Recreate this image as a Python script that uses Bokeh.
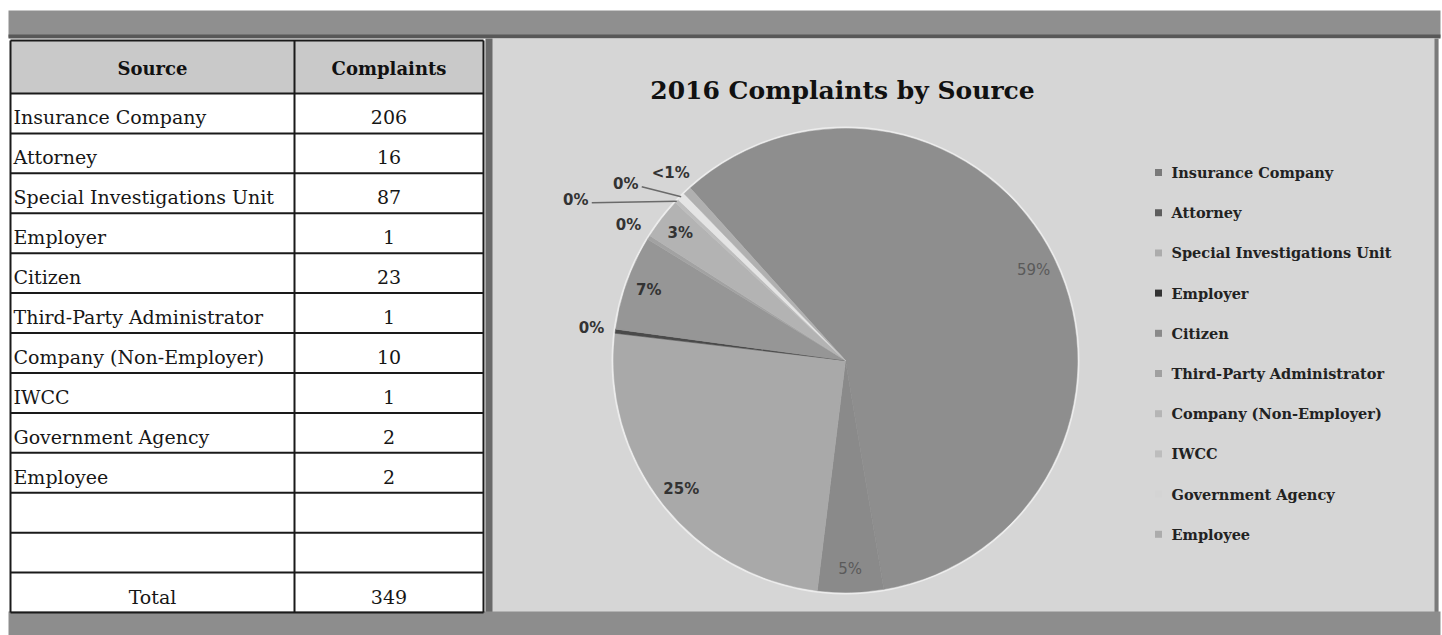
import math
from bokeh.plotting import figure
from bokeh.models import Range1d
from bokeh.core.properties import value
from bokeh.embed import file_html
from bokeh.resources import INLINE

# ---------------- data ----------------
sources = ["Insurance Company", "Attorney", "Special Investigations Unit", "Employer",
           "Citizen", "Third-Party Administrator", "Company (Non-Employer)", "IWCC",
           "Government Agency", "Employee"]
complaints = [206, 16, 87, 1, 23, 1, 10, 1, 2, 2]
pct_labels = ["59%", "5%", "25%", "0%", "7%", "0%", "3%", "0%", "0%", "<1%"]
header_labels = ["Source", "Complaints"]
total_label = "Total"
chart_title = "2016 Complaints by Source"

# ---------------- style ----------------
slice_colors = ["#8e8e8e", "#8a8a8a", "#a9a9a9", "#4a4a4a", "#969696",
                "#a2a2a2", "#b3b3b3", "#bdbdbd", "#e4e4e4", "#b0b0b0"]
legend_colors = ["#7a7a7a", "#5e5e5e", "#acacac", "#333333", "#8a8a8a",
                 "#a0a0a0", "#b5b5b5", "#bdbdbd", "#d4d4d4", "#acacac"]
SERIF = value("DejaVu Serif")
SANS = value("DejaVu Sans")

W, H = 1442, 635


def X(x):
    return x


def Y(y):
    return H - y


p = figure(width=W, height=H, x_range=Range1d(0, W), y_range=Range1d(0, H),
           output_backend="svg", toolbar_location=None, min_border=0)
p.axis.visible = False
p.grid.visible = False
p.outline_line_color = None
p.background_fill_color = "white"
p.border_fill_color = "white"

# ---------------- frame ----------------
p.quad(left=[X(8)], right=[X(1440)], top=[Y(10)], bottom=[Y(37)],
       fill_color="#8f8f8f", line_color=None)
p.quad(left=[X(8)], right=[X(1440)], top=[Y(34)], bottom=[Y(38)],
       fill_color="#585858", line_color=None)
p.quad(left=[X(485)], right=[X(1438)], top=[Y(38)], bottom=[Y(612)],
       fill_color="#d6d6d6", line_color=None)
p.quad(left=[X(485)], right=[X(492)], top=[Y(38)], bottom=[Y(612)],
       fill_color="#6a6a6a", line_color=None)
p.quad(left=[X(1434)], right=[X(1438)], top=[Y(38)], bottom=[Y(612)],
       fill_color="#7a7a7a", line_color=None)
p.quad(left=[X(8)], right=[X(1440)], top=[Y(611)], bottom=[Y(640)],
       fill_color="#8d8d8d", line_color=None)

# ---------------- table ----------------
tl, tm, tr = 10, 294, 483
head_top, head_bot, table_bot = 40, 93, 612
rows = sources + ["", "", total_label]
vals = [str(v) for v in complaints] + ["", "", str(sum(complaints))]
n = len(rows)
rh = (table_bot - head_bot) / n

p.quad(left=[X(tl)], right=[X(tr)], top=[Y(head_top)], bottom=[Y(head_bot)],
       fill_color="#c9c9c9", line_color=None)
p.text(x=[X((tl + tm) / 2), X((tm + tr) / 2)], y=[Y((head_top + head_bot) / 2 + 1)] * 2,
       text=header_labels, text_font=SERIF, text_font_style="bold",
       text_font_size="18px", text_align="center", text_baseline="middle",
       text_color="#111111")

row_y = [Y(head_bot + rh * (i + 0.5) + 4) for i in range(n)]
left_x = [X(tl + 3) if r != total_label else X((tl + tm) / 2) for r in rows]
align = ["left" if r != total_label else "center" for r in rows]
p.text(x=left_x, y=row_y, text=rows, text_font=SERIF, text_font_size="19px",
       text_align=align, text_baseline="middle", text_color="#161616")
p.text(x=[X((tm + tr) / 2)] * n, y=row_y, text=vals, text_font=SERIF,
       text_font_size="19px", text_align="center", text_baseline="middle",
       text_color="#161616")

hy = [head_top, head_bot] + [head_bot + rh * (i + 1) for i in range(n)]
p.segment(x0=[X(tl)] * len(hy), x1=[X(tr)] * len(hy), y0=[Y(v) for v in hy],
          y1=[Y(v) for v in hy], line_color="#1a1a1a", line_width=2)
p.segment(x0=[X(v) for v in (tl, tm, tr)], x1=[X(v) for v in (tl, tm, tr)],
          y0=[Y(head_top)] * 3, y1=[Y(table_bot)] * 3, line_color="#1a1a1a",
          line_width=2)

# ---------------- title ----------------
p.text(x=[X(842)], y=[Y(90)], text=[chart_title], text_font=SERIF,
       text_font_style="bold", text_font_size="25px", text_align="center",
       text_baseline="middle", text_color="#111111")

# ---------------- pie ----------------
cx, cy, R = 845, 360, 232
first_angle = -42.0  # degrees, clockwise from 12 o'clock
total = sum(complaints)
starts, ends = [], []
acc = first_angle
for v in complaints:
    starts.append(acc)
    acc += v / total * 360.0
    ends.append(acc)

sa = [math.radians(90 - e) for e in ends]
ea = [math.radians(90 - s) for s in starts]
p.circle(x=[X(cx)], y=[Y(cy)], radius=R + 2, fill_color="#ececec", line_color=None)
p.wedge(x=[X(cx)] * len(complaints), y=[Y(cy)] * len(complaints), radius=R,
        start_angle=sa, end_angle=ea, fill_color=slice_colors,
        line_color=slice_colors, line_width=0.5)

# labels
label_override = {7: (300.8, 314), 8: (308.8, 282)}  # (angle, radius) for leader labels
lx, ly, lt, lw, lc = [], [], [], [], []
lead_x0, lead_y0, lead_x1, lead_y1 = [], [], [], []
for i, v in enumerate(complaints):
    mid = (starts[i] + ends[i]) / 2
    frac = v / total
    if i in label_override:
        ang, r = label_override[i]
    elif frac >= 0.025:
        ang, r = mid, 0.9 * R
    else:
        ang, r = mid, 256
    px = cx + r * math.sin(math.radians(ang))
    py = cy - r * math.cos(math.radians(ang))
    lx.append(X(px))
    ly.append(Y(py))
    lt.append(pct_labels[i])
    big = frac > 0.4 or (0.03 < frac < 0.05)
    lw.append("normal" if big else "bold")
    lc.append("#5a5a5a" if big else "#333333")
    if i in label_override:
        ex = cx + R * math.sin(math.radians(mid))
        ey = cy - R * math.cos(math.radians(mid))
        lead_x0.append(X(px + 16))
        lead_y0.append(Y(py + 3))
        lead_x1.append(X(ex))
        lead_y1.append(Y(ey))

p.segment(x0=lead_x0, y0=lead_y0, x1=lead_x1, y1=lead_y1, line_color="#6a6a6a",
          line_width=1.5)
p.text(x=lx, y=ly, text=lt, text_font=SANS, text_font_size="15px",
       text_font_style=lw, text_color=lc, text_align="center",
       text_baseline="middle")

# ---------------- legend ----------------
leg_x, leg_y0, leg_dy = 1158, 172, 40.2
leg_ys = [Y(leg_y0 + i * leg_dy) for i in range(len(sources))]
p.rect(x=[X(leg_x)] * len(sources), y=leg_ys, width=7, height=7,
       fill_color=legend_colors, line_color=None)
p.text(x=[X(leg_x + 13)] * len(sources), y=leg_ys, text=sources, text_font=SERIF,
       text_font_style="bold", text_font_size="14.5px", text_align="left",
       text_baseline="middle", text_color="#222222")

open("out.html", "w").write(file_html(p, INLINE))
